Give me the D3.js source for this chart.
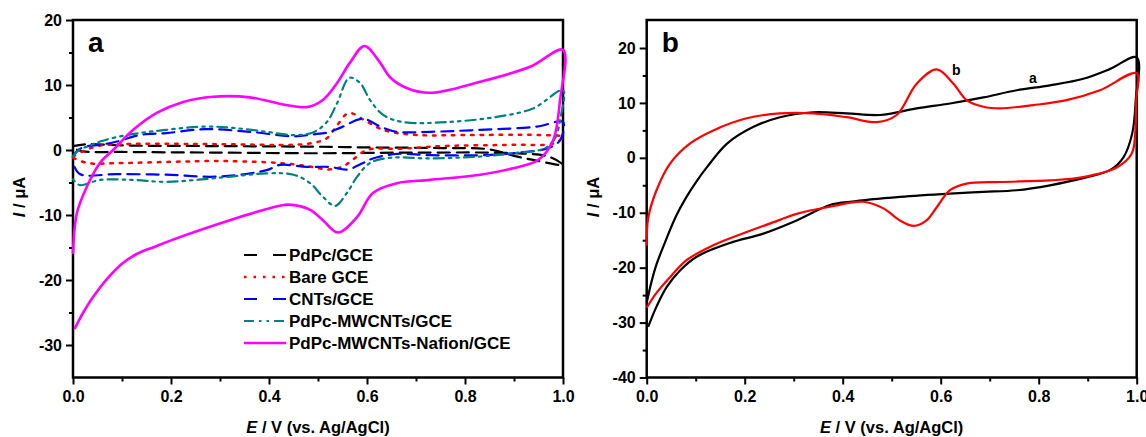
<!DOCTYPE html>
<html>
<head>
<meta charset="utf-8">
<script src="https://cdn.jsdelivr.net/npm/d3@7"></script>
<style>
    body { margin: 0; background: #fff; }
    text { font-family: "Liberation Sans", Arial, sans-serif; font-weight: bold; fill: #000; }
</style>
</head>
<body>
<div id="chart"></div>
<script>

// ---- data (E in V, I in uA), each CV is anodic sweep then cathodic sweep ----

// panel a
let pdpcGce = [[0,0.6],[0.03,0.9],[0.1,0.7],[0.3,0.6],[0.5,0.5],[0.6,0.4],[0.75,0.3],[0.85,0.1],[0.9,-0.9],[0.95,-1.7],[1.0,-2.3],
    [0.97,-1.0],[0.9,-0.5],[0.7,-0.4],[0.5,-0.5],[0.3,-0.4],[0.1,-0.3],[0.02,-0.2],[0,0.3]];

let bareGce = [[0,-1.0],[0.02,-0.2],[0.05,0.6],[0.1,0.9],[0.3,0.9],[0.45,0.8],[0.49,1.1],[0.518,1.8],[0.539,3.8],[0.563,5.7],[0.592,4.7],
    [0.623,3.4],[0.647,2.8],[0.702,2.3],[0.8,2.3],[0.95,2.3],[1.0,2.0],
    [0.98,1.0],[0.9,0.8],[0.75,0.6],[0.673,0.2],[0.6,0.0],[0.571,-1.5],[0.549,-2.6],[0.52,-3.0],[0.48,-2.5],[0.42,-2.0],[0.3,-1.7],
    [0.1,-2.0],[0.03,-2.0],[0,-1.2]];

let cntsGce = [[0,-1.0],[0.01,0.0],[0.03,0.6],[0.055,0.8],[0.09,1.3],[0.136,2.3],[0.19,2.6],[0.27,3.2],[0.361,2.8],[0.45,2.1],[0.49,2.4],
    [0.52,2.7],[0.545,3.4],[0.592,4.8],[0.627,3.6],[0.661,2.8],[0.729,2.8],[0.831,3.1],[0.947,3.6],[1.0,4.3],
    [0.994,1.5],[0.97,0.3],[0.898,-0.5],[0.831,-0.8],[0.729,-0.8],[0.661,-0.6],[0.612,-1.3],[0.592,-2.0],[0.56,-3.0],[0.524,-2.6],
    [0.477,-2.6],[0.422,-2.3],[0.395,-3.1],[0.294,-4.1],[0.19,-3.8],[0.09,-3.7],[0.014,-3.7],[0,-2.0]];

let mwcntsGce = [[0,-1.0],[0.012,0.0],[0.028,0.5],[0.055,1.3],[0.09,2.0],[0.136,2.6],[0.19,3.1],[0.27,3.6],[0.327,3.4],[0.395,2.8],
    [0.45,2.3],[0.49,2.7],[0.518,4.3],[0.539,7.2],[0.564,11.1],[0.586,10.3],[0.606,7.7],[0.633,5.4],[0.673,4.3],[0.763,4.3],
    [0.865,5.1],[0.939,6.4],[1.0,9.2],
    [0.995,5.0],[0.985,2.0],[0.97,0.6],[0.953,0.0],[0.898,-0.5],[0.831,-1.0],[0.729,-1.3],[0.647,-1.2],[0.606,-2.0],[0.58,-4.1],
    [0.559,-6.6],[0.535,-8.6],[0.51,-7.2],[0.484,-5.1],[0.45,-3.8],[0.395,-3.6],[0.294,-4.3],[0.19,-4.9],[0.122,-4.6],
    [0.055,-4.6],[0.014,-5.4],[0,-4.5]];

let nafionGce = [[0,-15.8],[0.008,-9.7],[0.028,-5.7],[0.055,-2.0],[0.082,0.0],[0.123,3.1],[0.171,5.7],[0.225,7.4],[0.286,8.2],
    [0.361,8.1],[0.429,7.0],[0.477,6.6],[0.51,7.7],[0.539,10.3],[0.565,13.4],[0.595,16.0],[0.627,13.4],[0.647,11.2],[0.682,9.5],
    [0.729,8.8],[0.831,10.5],[0.933,12.8],[1.0,15.4],
    [0.994,7.7],[0.98,1.5],[0.95,-1.5],[0.898,-2.8],[0.831,-3.8],[0.729,-4.6],[0.661,-5.1],[0.612,-6.6],[0.58,-10.3],
    [0.541,-12.7],[0.51,-10.8],[0.484,-9.2],[0.44,-8.4],[0.4,-9.0],[0.32,-10.8],[0.2,-13.9],[0.17,-14.8],[0.13,-16.0],[0.1,-17.5],
    [0.07,-19.8],[0.041,-22.6],[0.021,-25.0],[0.004,-27.4]];

let legendNames = ["PdPc/GCE", "Bare GCE", "CNTs/GCE", "PdPc-MWCNTs/GCE", "PdPc-MWCNTs-Nafion/GCE"];

// panel b
let curveA = [[0,-26.4],[0.01,-22.5],[0.02,-19.4],[0.04,-14.8],[0.06,-10.6],[0.08,-7.3],[0.1,-4.5],[0.123,-1.7],[0.164,2.6],[0.217,5.6],[0.272,7.4],
    [0.34,8.3],[0.408,8.1],[0.476,7.8],[0.551,9.0],[0.619,9.9],[0.687,11.0],[0.755,12.3],[0.823,13.2],[0.891,14.4],[0.946,16.2],[1.0,18.3],
    [0.998,10.5],[0.991,4.5],[0.973,0.1],[0.946,-2.2],[0.891,-3.7],[0.823,-5.0],[0.755,-5.9],[0.687,-6.2],[0.619,-6.5],[0.517,-7.1],
    [0.415,-8.0],[0.374,-8.6],[0.306,-11.4],[0.238,-13.8],[0.17,-15.5],[0.102,-18.0],[0.068,-20.5],[0.041,-23.5],[0.02,-27.1],[0.003,-30.8]];

let curveB = [[0,-16.0],[0.003,-11.0],[0.02,-5.9],[0.048,-1.0],[0.088,2.6],[0.136,5.0],[0.204,7.2],[0.272,8.1],[0.34,8.1],[0.408,7.4],
    [0.47,6.5],[0.51,7.8],[0.551,13.5],[0.592,16.1],[0.626,13.5],[0.653,10.5],[0.687,9.3],[0.721,9.0],[0.789,9.6],[0.857,10.5],[0.925,12.3],[1.0,15.4],
    [0.999,10.5],[0.997,4.5],[0.99,0.8],[0.96,-1.7],[0.891,-3.5],[0.823,-4.1],[0.721,-4.4],[0.653,-4.7],[0.619,-5.9],[0.592,-9.0],
    [0.571,-11.4],[0.545,-12.4],[0.517,-11.4],[0.483,-9.2],[0.442,-8.0],[0.374,-8.9],[0.306,-10.2],[0.272,-11.3],[0.204,-13.5],
    [0.136,-15.9],[0.082,-18.6],[0.048,-21.7],[0.02,-24.6],[0,-27.3]];

let xTicks = [0, 0.2, 0.4, 0.6, 0.8, 1.0];
let yTicksA = [-30, -20, -10, 0, 10, 20];
let yTicksB = [-40, -30, -20, -10, 0, 10, 20];


let svg = d3.select("#chart").append("svg")
    .attr("width", 1146)
    .attr("height", 437);

// draws frame, axes and titles of one panel, returns scales
function drawPanel(opts) {
    let x = d3.scaleLinear().domain([0, 1]).range([opts.left, opts.left + 490]);
    let y = d3.scaleLinear().domain(opts.yDomain).range([377.5, opts.top]);

    let g = svg.append("g");

    // minor ticks
    g.append("g")
        .attr("transform", `translate(0, ${y.range()[0]})`)
        .call(d3.axisBottom(x).tickValues([0.1, 0.3, 0.5, 0.7, 0.9]).tickSize(4).tickFormat(""))
        .call(a => a.select(".domain").remove());
    g.append("g")
        .attr("transform", `translate(${opts.left}, 0)`)
        .call(d3.axisLeft(y).tickValues(opts.yMinor).tickSize(4).tickFormat(""))
        .call(a => a.select(".domain").remove());

    // major ticks
    let xAxis = g.append("g")
        .attr("transform", `translate(0, ${y.range()[0]})`)
        .call(d3.axisBottom(x).tickValues(xTicks).tickSize(7).tickPadding(6).tickFormat(d3.format(".1f")));
    xAxis.select(".domain").remove();

    let yAxis = g.append("g")
        .attr("transform", `translate(${opts.left}, 0)`)
        .call(d3.axisLeft(y).tickValues(opts.yTicks).tickSize(7).tickPadding(4).tickFormat(d => String(d)));
    yAxis.select(".domain").remove();

    g.selectAll(".tick line").attr("stroke", "#000").attr("stroke-width", 2);
    g.selectAll(".tick text")
        .style("font-size", "16px")
        .style("font-family", "'Liberation Sans', Arial, sans-serif")
        .style("font-weight", "bold");

    // frame
    g.append("rect")
        .attr("x", opts.left)
        .attr("y", opts.top)
        .attr("width", 490)
        .attr("height", y.range()[0] - opts.top)
        .attr("fill", "none")
        .attr("stroke", "#000")
        .attr("stroke-width", 2.5);

    // axis titles
    let xt = g.append("text")
        .attr("x", opts.left + 245)
        .attr("y", 433)
        .attr("text-anchor", "middle")
        .style("font-size", "16.5px");
    xt.append("tspan").style("font-style", "italic").text("E");
    xt.append("tspan").text(" / V (vs. Ag/AgCl)");

    let yt = g.append("text")
        .attr("transform", `translate(${opts.yTitleX}, 197) rotate(-90)`)
        .attr("text-anchor", "middle")
        .style("font-size", "16.5px");
    yt.append("tspan").style("font-style", "italic").text("I");
    yt.append("tspan").text(" / \u03bcA");

    // panel letter
    g.append("text")
        .attr("x", opts.left + 15)
        .attr("y", 52)
        .style("font-size", "28px")
        .text(opts.letter);

    return {x: x, y: y, g: g};
}

let line = (x, y) => d3.line()
    .x(d => x(d[0]))
    .y(d => y(d[1]))
    .curve(d3.curveCatmullRom.alpha(0.5));

// ---------------- panel a ----------------
let pa = drawPanel({
    left: 73, top: 20, yDomain: [-35, 20], yTicks: yTicksA,
    yMinor: [-25, -15, -5, 5, 15], yTitleX: 25, letter: "a"
});

let seriesA = [
    {data: pdpcGce, color: "#000000", dash: "12,7", width: 2.2},
    {data: bareGce, color: "#ff0000", dash: "2.5,7", width: 2.5},
    {data: cntsGce, color: "#0000ff", dash: "12,7", width: 2.2},
    {data: mwcntsGce, color: "#008080", dash: "10,5,2.5,5,2.5,5", width: 2.2},
    {data: nafionGce, color: "#ff00ff", dash: null, width: 2.6}
];

pa.g.selectAll(".cv")
    .data(seriesA)
    .enter().append("path")
    .attr("class", "cv")
    .attr("d", d => line(pa.x, pa.y)(d.data))
    .attr("fill", "none")
    .attr("stroke", d => d.color)
    .attr("stroke-width", d => d.width)
    .attr("stroke-dasharray", d => d.dash)
    .attr("stroke-linecap", "round");

// legend
let legend = pa.g.append("g").attr("class", "legend");
let rows = legend.selectAll("g")
    .data(seriesA)
    .enter().append("g")
    .attr("transform", (d, i) => `translate(244, ${255 + i * 22})`);

rows.append("line")
    .attr("x1", 0).attr("x2", 42)
    .attr("y1", 0).attr("y2", 0)
    .attr("stroke", d => d.color)
    .attr("stroke-width", d => d.width)
    .attr("stroke-dasharray", d => d.dash === "12,7" ? "13,16" : d.dash);

rows.append("text")
    .attr("x", 45)
    .attr("y", 6)
    .style("font-size", "17px")
    .text((d, i) => legendNames[i]);

// ---------------- panel b ----------------
let pb = drawPanel({
    left: 646.7, top: 20, yDomain: [-40, 25.1], yTicks: yTicksB,
    yMinor: [-35, -25, -15, -5, 5, 15], yTitleX: 599, letter: "b"
});

let seriesB = [
    {data: curveA, color: "#000000", label: "a", at: [0.78, 13.7]},
    {data: curveB, color: "#ff0000", label: "b", at: [0.623, 15.0]}
];

pb.g.selectAll(".cv")
    .data(seriesB)
    .enter().append("path")
    .attr("class", "cv")
    .attr("d", d => line(pb.x, pb.y)(d.data))
    .attr("fill", "none")
    .attr("stroke", d => d.color)
    .attr("stroke-width", 2.2);

pb.g.selectAll(".curve-label")
    .data(seriesB)
    .enter().append("text")
    .attr("class", "curve-label")
    .attr("x", d => pb.x(d.at[0]))
    .attr("y", d => pb.y(d.at[1]))
    .style("font-size", "14px")
    .text(d => d.label);

</script>
</body>
</html>
